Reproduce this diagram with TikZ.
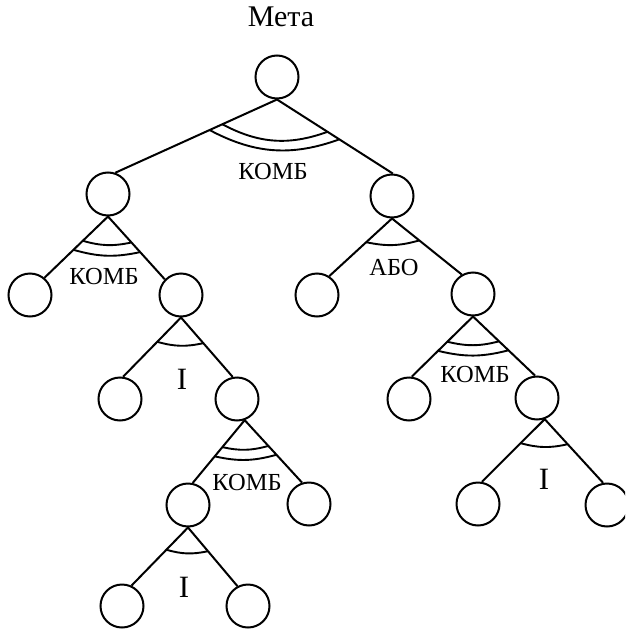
\documentclass[tikz,border=0pt]{standalone}
\usepackage{fontspec}
\setmainfont{Liberation Serif}
\usetikzlibrary{calc}
\tikzset{
  goal/.style={circle, draw, line width=2pt, minimum size=43pt, inner sep=0pt},
  link/.style={line width=2pt},
  tie/.style={line width=1.9pt},
  opname/.style={font=\fontsize{24.5}{24.5}\selectfont, anchor=base, inner sep=0pt},
  conj/.style={font=\fontsize{31}{31}\selectfont, anchor=base, inner sep=0pt},
  title/.style={font=\fontsize{30}{30}\selectfont, anchor=base, inner sep=0pt},
}
% arc across the two branches leaving apex #1 towards #2 and #3,
% at distance #4 from the apex, bent by #5 degrees
\newcommand{\tiearc}[5]{\draw[tie] ($(#1)!#4!(#2)$) to[bend right=#5] ($(#1)!#4!(#3)$);}
\begin{document}
\begin{tikzpicture}[x=1pt, y=-1pt]
\clip (0,0) rectangle (625,629);

% goal nodes
\node[goal] (root)  at (277,77)  {};
\node[goal] (a)     at (108,194) {};
\node[goal] (b)     at (392,196) {};
\node[goal] (a1)    at (30,295)  {};
\node[goal] (a2)    at (181,295) {};
\node[goal] (b1)    at (317,295) {};
\node[goal] (b2)    at (473,294) {};
\node[goal] (a21)   at (120,399) {};
\node[goal] (a22)   at (237,399) {};
\node[goal] (b21)   at (409,399) {};
\node[goal] (b22)   at (537,398) {};
\node[goal] (a221)  at (188,505) {};
\node[goal] (a222)  at (309,504) {};
\node[goal] (b221)  at (478,504) {};
\node[goal] (b222)  at (607,505) {};
\node[goal] (a2211) at (122,606) {};
\node[goal] (a2212) at (248,606) {};

% branches
\draw[link] (a.71) -- (root.south) -- (b.88);
\draw[link] (a1.50) -- (a.south) -- (a2.136);
\draw[link] (b1.57) -- (b.south) -- (b2.120);
\draw[link] (a21.82) -- (a2.south) -- (a22.101);
\draw[link] (b21.83) -- (b2.south) -- (b22.95);
\draw[link] (a221.78) -- (a22.290) -- (a222.108);
\draw[link] (b221.80) -- (b22.290) -- (b222.100);
\draw[link] (a2211.65) -- (a221.south) -- (a2212.118);

% combination arcs (double)
\tiearc{root.south}{a.71}{b.88}{60pt}{24}
\tiearc{root.south}{a.71}{b.88}{74pt}{24}
\tiearc{a.south}{a1.50}{a2.136}{35pt}{14}
\tiearc{a.south}{a1.50}{a2.136}{48pt}{14}
\tiearc{b2.south}{b21.83}{b22.95}{36pt}{14}
\tiearc{b2.south}{b21.83}{b22.95}{49pt}{14}
\tiearc{a22.290}{a221.78}{a222.108}{35pt}{14}
\tiearc{a22.290}{a221.78}{a222.108}{47pt}{14}
% single arcs
\tiearc{b.south}{b1.57}{b2.120}{35pt}{14}
\tiearc{a2.south}{a21.82}{a22.101}{34pt}{14}
\tiearc{b22.290}{b221.80}{b222.100}{34pt}{14}
\tiearc{a221.south}{a2211.65}{a2212.118}{31pt}{14}

% labels
\node[title]  (goalname) at (281,27)  {Мета};
\node[opname] (op1) at (273,179) {КОМБ};
\node[opname] (op2) at (104,284) {КОМБ};
\node[opname] (op3) at (394,275) {АБО};
\node[conj]   (op4) at (182,389) {І};
\node[opname] (op5) at (475,382) {КОМБ};
\node[opname] (op6) at (247,490) {КОМБ};
\node[conj]   (op7) at (544,489) {І};
\node[conj]   (op8) at (184,597) {І};
\end{tikzpicture}
\end{document}
